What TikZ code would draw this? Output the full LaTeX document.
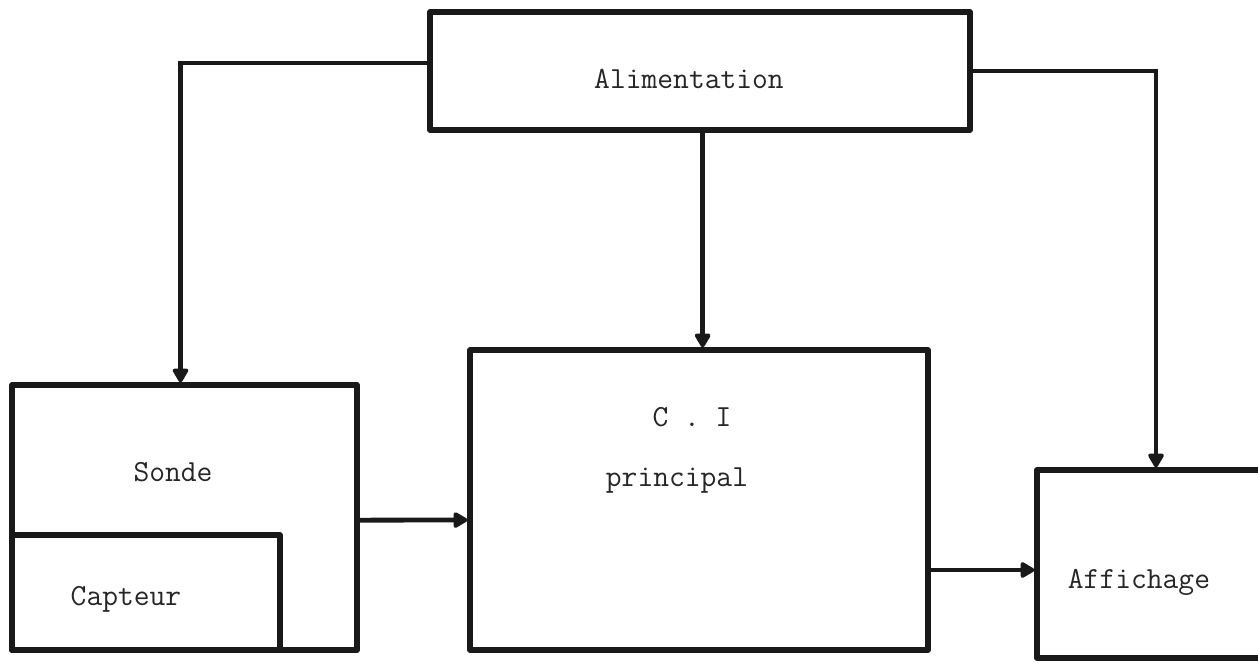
\documentclass[tikz,border=0pt]{standalone}
\usetikzlibrary{arrows.meta,calc}
\begin{document}
\begin{tikzpicture}[x=0.75pt,y=-0.75pt,
  blk/.style={draw=black!90,line width=4pt,inner sep=0pt,line join=round},
  lbl/.style={font=\ttfamily\fontsize{23}{27}\selectfont,text=black!85,inner sep=0pt},
  arr/.style={draw=black!90,line width=3.6pt,-{Triangle[length=12pt,width=13pt,round]}}]
\useasboundingbox (0,0) rectangle (1258,663);
\fill[white] (0,0) rectangle (1258,663);
\begin{scope}
\clip (0,0) rectangle (1258,663);
\node[blk,minimum width=405pt,minimum height=88.5pt] (alim) at (700,71) {};
\node[blk,minimum width=258.75pt,minimum height=198.75pt] (sonde) at (184.5,517.5) {};
\node[blk,minimum width=201pt,minimum height=86.25pt] (capteur) at (146,592.5) {};
\node[blk,minimum width=343.5pt,minimum height=225pt] (ci) at (699,500) {};
\node[blk,minimum width=178.5pt,minimum height=141pt] (aff) at (1156,564) {};
\end{scope}
\node[lbl] (talim) at (689,79) {Alimentation};
\node[lbl] (tsonde) at (173,472) {Sonde};
\node[lbl] (tcapteur) at (126,599) {Capteur};
\node[lbl] (tci) at (692,417) {C . I};
\node[lbl] (tprin) at (677,481) {principal};
\node[lbl] (taff) at (1139,582) {Affichage};
\draw[arr] ([yshift=6pt]alim.west) -| ([xshift=-3pt]sonde.north);
\draw[arr] ([xshift=2pt]alim.south) -- ([xshift=2.75pt]ci.north);
\draw[arr] (alim.east) -| (aff.north);
\draw[arr] ([yshift=-2pt]sonde.east) -- ([yshift=-15pt]ci.west);
\draw[arr] ([yshift=-4.5pt]ci.east |- aff.west) -- ([yshift=-4.5pt]aff.west);
\end{tikzpicture}
\end{document}
